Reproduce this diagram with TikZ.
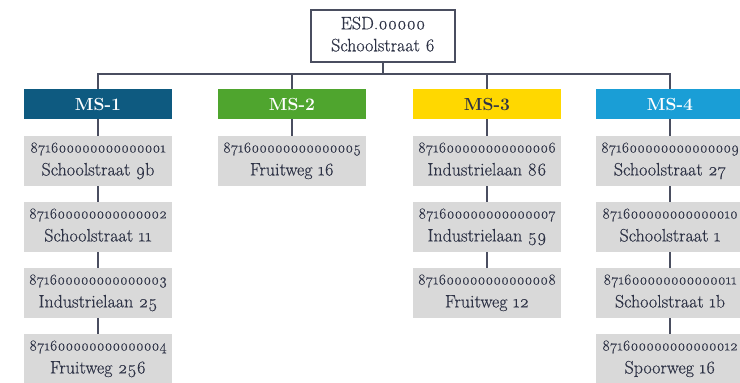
\documentclass[tikz,border=0pt]{standalone}
\usepackage{fontspec}
\setmainfont{Latin Modern Roman}[Numbers=OldStyle]
\usetikzlibrary{positioning}

\definecolor{textgray}{HTML}{2E3346}
\definecolor{linegray}{HTML}{4A4E60}
\definecolor{boxgray}{HTML}{D9D9D9}
\definecolor{msone}{HTML}{0E5A80}
\definecolor{mstwo}{HTML}{4FA52E}
\definecolor{msthree}{HTML}{FFD800}
\definecolor{msfour}{HTML}{1A9ED6}

\newcommand{\eanbox}[2]{\fontsize{15}{23}\selectfont #1\\\fontsize{18}{23}\selectfont #2}

\tikzset{
	meter/.style={fill=boxgray, text=textgray, minimum width=148pt, minimum height=50pt,
		inner sep=0pt, align=center, text depth=4pt,
		font=\fontsize{15}{23}\selectfont\addfontfeatures{FakeBold=0.4}},
	header/.style={fill=#1, text=white, minimum width=148pt, minimum height=30pt,
		inner sep=0pt, font=\bfseries\fontsize{17.5}{19}\selectfont\addfontfeatures{Numbers=Lining}},
	link/.style={draw=linegray, line width=1.2pt}
}

\begin{document}
\begin{tikzpicture}[x=1pt, y=-1pt]
	\useasboundingbox (0,0) rectangle (740,383);
	% hoofdaansluiting
	\node [draw=linegray, line width=1.3pt, fill=white, text=textgray, minimum width=144pt,
		minimum height=52pt, align=center, text depth=4pt,
		font=\fontsize{18}{22}\selectfont\addfontfeatures{FakeBold=0.4}] (esd) at (383,36)
		{ESD.00000\\Schoolstraat 6};
	% meetsets
	\node [header=msone] (ms1) at (98,104) {MS-1};
	\node [header=mstwo] (ms2) at (292,104) {MS-2};
	\node [header=msthree, text=textgray] (ms3) at (487,104) {MS-3};
	\node [header=msfour] (ms4) at (670,104) {MS-4};
	% aansluitingen MS-1
	\node [meter] (a1) at (98,161) {\eanbox{871600000000000001}{Schoolstraat 9b}};
	\node [meter] (a2) at (98,227) {\eanbox{871600000000000002}{Schoolstraat 11}};
	\node [meter] (a3) at (98,293) {\eanbox{871600000000000003}{Industrielaan 25}};
	\node [meter] (a4) at (98,359) {\eanbox{871600000000000004}{Fruitweg 256}};
	% aansluitingen MS-2
	\node [meter] (b1) at (292,161) {\eanbox{871600000000000005}{Fruitweg 16}};
	% aansluitingen MS-3
	\node [meter] (c1) at (487,161) {\eanbox{871600000000000006}{Industrielaan 86}};
	\node [meter] (c2) at (487,227) {\eanbox{871600000000000007}{Industrielaan 59}};
	\node [meter] (c3) at (487,293) {\eanbox{871600000000000008}{Fruitweg 12}};
	% aansluitingen MS-4
	\node [meter] (d1) at (670,161) {\eanbox{871600000000000009}{Schoolstraat 27}};
	\node [meter] (d2) at (670,227) {\eanbox{871600000000000010}{Schoolstraat 1}};
	\node [meter] (d3) at (670,293) {\eanbox{871600000000000011}{Schoolstraat 1b}};
	\node [meter] (d4) at (670,359) {\eanbox{871600000000000012}{Spoorweg 16}};
	% verbindingen
	\coordinate (bar) at (383,74);
	\draw [link] (esd.south) -- (bar);
	\draw [link] (ms1.north) |- (bar) -| (ms4.north);
	\draw [link] (ms2.north) -- (ms2.north |- bar);
	\draw [link] (ms3.north) -- (ms3.north |- bar);
	\draw [link] (ms1) -- (a1) -- (a2) -- (a3) -- (a4);
	\draw [link] (ms2) -- (b1);
	\draw [link] (ms3) -- (c1) -- (c2) -- (c3);
	\draw [link] (ms4) -- (d1) -- (d2) -- (d3) -- (d4);
\end{tikzpicture}
\end{document}
